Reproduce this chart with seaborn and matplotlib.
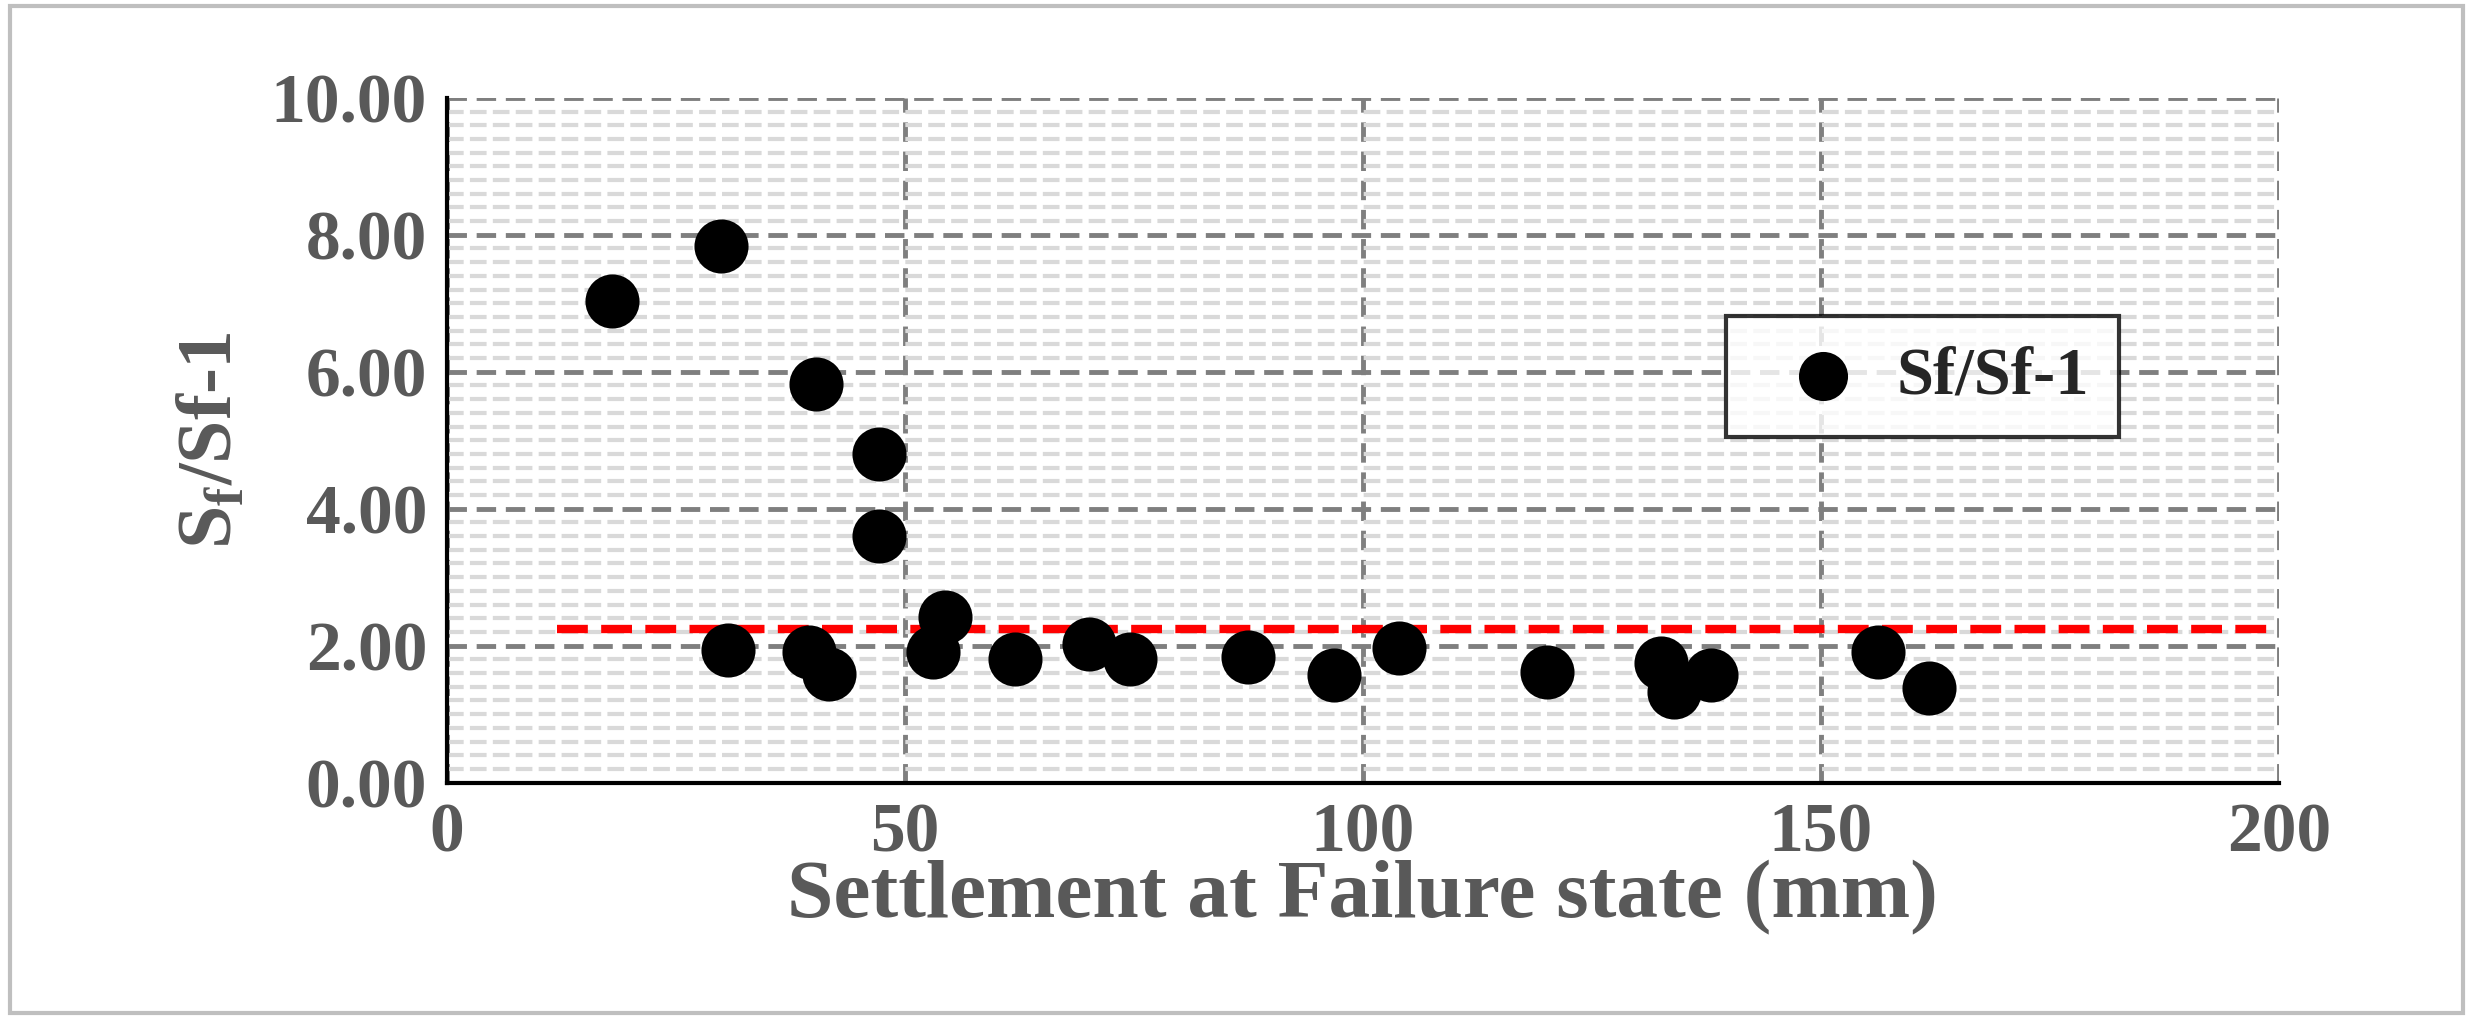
import numpy as np
import pandas as pd
import seaborn as sns
import matplotlib.pyplot as plt
from matplotlib.ticker import MultipleLocator
from matplotlib.patches import Rectangle

settlement = [18.1, 30.0, 30.7, 40.3, 39.6, 41.7, 47.2, 47.2, 54.4, 53.1, 62.0,
              70.1, 74.6, 87.5, 96.8, 103.9, 120.1, 132.5, 134.0, 138.0, 156.2, 161.8]
ratio = [7.03, 7.83, 1.94, 5.82, 1.91, 1.59, 4.80, 3.60, 2.42, 1.91, 1.80,
         2.03, 1.80, 1.84, 1.57, 1.96, 1.61, 1.75, 1.32, 1.57, 1.91, 1.38]
avg_x = [12, 199.5]
avg_y = [2.25, 2.25]

df = pd.DataFrame({"x": settlement, "y": ratio})

sns.set_style("white")
plt.rcParams['font.family'] = ['Liberation Serif', 'DejaVu Serif']
plt.rcParams['font.weight'] = 'bold'
plt.rcParams['mathtext.fontset'] = 'custom'
plt.rcParams['mathtext.rm'] = 'Liberation Serif:bold'

fig = plt.figure(figsize=(24.73, 10.19), dpi=100)
fig.patches.append(Rectangle((0.004, 0.006), 0.992, 0.988, transform=fig.transFigure,
                             fill=False, edgecolor='#bfbfbf', linewidth=3))
ax = fig.add_axes([0.1806, 0.232, 0.741, 0.672])

ax.yaxis.set_minor_locator(MultipleLocator(0.2))
ax.grid(which='minor', axis='y', color='#d9d9d9', linestyle=(0, (4, 1.5)), linewidth=3)
ax.grid(which='major', axis='both', color='#7f7f7f', linestyle=(0, (4, 2)), linewidth=3.5)
ax.set_axisbelow(True)

sns.lineplot(x=avg_x, y=avg_y, ax=ax, color='red', linestyle='--', linewidth=6,
             dashes=(3, 1.6))
sns.scatterplot(data=df, x="x", y="y", ax=ax, s=1300, color='black',
                edgecolor='black', label='Sf/Sf-1', zorder=3)

ax.set_xlim(0, 200)
ax.set_ylim(0, 10)
ax.xaxis.set_major_locator(MultipleLocator(50))
ax.yaxis.set_major_locator(MultipleLocator(2))
ax.yaxis.set_major_formatter(lambda v, p: f"{v:.2f}")
for s in ['top', 'right']:
    ax.spines[s].set_visible(False)
for s in ['left', 'bottom']:
    ax.spines[s].set_color('black')
    ax.spines[s].set_linewidth(3)
ax.tick_params(axis='both', labelsize=50, labelcolor='#595959', length=0, pad=14)
ax.tick_params(axis='y', which='minor', length=0)
ax.set_xlabel("Settlement at Failure state (mm)", fontsize=60, color='#595959',
              fontweight='bold', labelpad=-4)
ax.set_ylabel(r"S$_\mathregular{f}$/Sf-1", fontsize=56, color='#595959',
              fontweight='bold', labelpad=16)

leg = ax.legend(loc='upper left', bbox_to_anchor=(0.68, 0.73), fontsize=48,
                frameon=True, fancybox=False, edgecolor='black', markerscale=0.9,
                handletextpad=0.1, borderpad=0.45)
leg.get_frame().set_linewidth(3)

fig.savefig("out.png", dpi=100)
